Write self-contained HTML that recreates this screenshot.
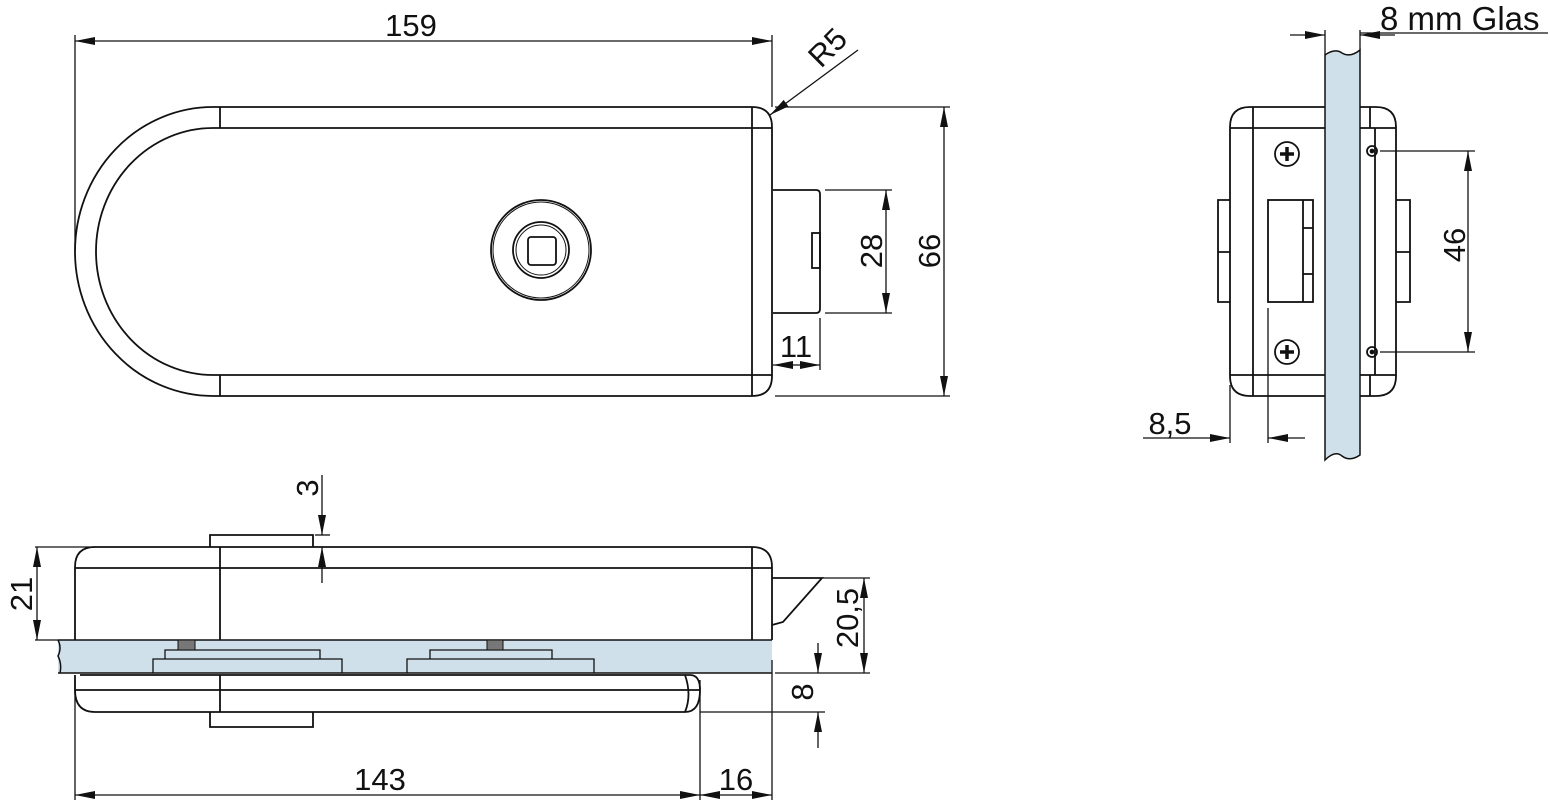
<!DOCTYPE html>
<html><head><meta charset="utf-8"><style>
html,body{margin:0;padding:0;background:#fff;}
svg{display:block;}
text{font-family:"Liberation Sans",sans-serif;font-size:31px;fill:#111;}
</style></head><body>
<svg width="1550" height="800" viewBox="0 0 1550 800" xmlns="http://www.w3.org/2000/svg">
<defs>
<marker id="a" viewBox="0 0 20 10" refX="20" refY="5" markerWidth="20" markerHeight="10" markerUnits="userSpaceOnUse" orient="auto-start-reverse"><path d="M0,1 L20,5 L0,9 z" fill="#111"/></marker>
</defs>
<g fill="none" stroke="#111" stroke-width="1.8">
<path d="M213,107 L752,107 Q772,107 772,127 L772,376 Q772,396 752,396 L213,396 A138,144.5 0 0 1 213,107 Z"/>
<path d="M213,128 L772,128 M213,375 L772,375"/>
<path d="M213,128 A117,123.5 0 0 0 213,375"/>
<path d="M220,107 V128 M220,375 V396 M752,107 V396"/>
<circle cx="541" cy="250" r="50"/><circle cx="541" cy="250" r="48" stroke-width="1"/>
<circle cx="541" cy="250" r="28"/><circle cx="541" cy="250" r="25" stroke-width="1"/>
<rect x="528" y="237" width="28" height="28" rx="3"/>
<path d="M773,190 H816 Q820,190 820,194 V309 Q820,313 816,313 H773"/>
<rect x="812" y="233" width="8" height="35"/>
<path d="M75,35 V250 M772,35 V107" stroke-width="1.3"/>
<line x1="75" y1="41" x2="772" y2="41" stroke-width="1.3" marker-start="url(#a)" marker-end="url(#a)"/>
<line x1="858" y1="50" x2="770" y2="115" stroke-width="1.3" marker-end="url(#a)"/>
<path d="M825,190 H892 M825,313 H892 M775,107 H950 M775,396 H950 M820,318 V370" stroke-width="1.3"/>
<line x1="886" y1="190" x2="886" y2="313" stroke-width="1.3" marker-start="url(#a)" marker-end="url(#a)"/>
<line x1="944" y1="107" x2="944" y2="396" stroke-width="1.3" marker-start="url(#a)" marker-end="url(#a)"/>
<line x1="773" y1="365" x2="820" y2="365" stroke-width="1.3" marker-start="url(#a)" marker-end="url(#a)"/>

<rect x="58" y="640" width="714" height="33" fill="#cfe0ea" stroke="none"/>
<path d="M58,640 H772 M58,673 H772 M58,640 q4,8 0,16 q4,8 2,17" stroke-width="1.5"/>
<path d="M95,547 H752 Q772,547 772,567 V640 M75,640 V567 Q75,547 95,547"/>
<path d="M75,568 H772 M220,547 V640 M752,547 V640"/>
<path d="M210,547 V535 H313 V547"/>
<path d="M772,578 H822 L783,622 L772,625"/>
<path d="M153,673 V659 H342 V673 M165,659 V650 H320 V659 M407,673 V659 H594 V673 M430,659 V650 H552 V659" stroke-width="1.3"/>
<rect x="178" y="640" width="17" height="10" fill="#777" stroke-width="1"/>
<rect x="487" y="640" width="16" height="10" fill="#777" stroke-width="1"/>
<path d="M80,675 H690 Q700,675 700,690 Q700,712 685,712 H95 Q75,712 75,690 V675 M75,690 H700 M220,675 V712 M685,675 Q692,695 685,712"/>
<path d="M210,712 V727 H313 V712"/>
<path d="M35,547 H95 M35,640 H58 M822,578 H870 M775,673 H870 M700,712 H825 M75,680 V800 M700,680 V800 M772,660 V800" stroke-width="1.3"/>
<line x1="37" y1="547" x2="37" y2="640" stroke-width="1.3" marker-start="url(#a)" marker-end="url(#a)"/>
<line x1="322" y1="475" x2="322" y2="535" stroke-width="1.3" marker-end="url(#a)"/>
<line x1="322" y1="583" x2="322" y2="547" stroke-width="1.3" marker-end="url(#a)"/>
<path d="M315,535 H330" stroke-width="1.3"/>
<line x1="864" y1="578" x2="864" y2="673" stroke-width="1.3" marker-start="url(#a)" marker-end="url(#a)"/>
<line x1="818" y1="643" x2="818" y2="673" stroke-width="1.3" marker-end="url(#a)"/>
<line x1="818" y1="748" x2="818" y2="712" stroke-width="1.3" marker-end="url(#a)"/>
<line x1="75" y1="795" x2="700" y2="795" stroke-width="1.3" marker-start="url(#a)" marker-end="url(#a)"/>
<line x1="700" y1="795" x2="772" y2="795" stroke-width="1.3" marker-start="url(#a)" marker-end="url(#a)"/>

<path d="M1325,55 Q1335,48 1342,53 Q1350,58 1360,50 V455 Q1350,462 1342,456 Q1335,450 1325,460 Z" fill="#cfe0ea" stroke-width="1.5"/>
<path d="M1325,107 H1250 Q1230,107 1230,127 V376 Q1230,396 1250,396 H1325"/>
<path d="M1230,128 H1325 M1230,375 H1325 M1253,107 V396"/>
<path d="M1230,200 H1218 V302 H1230 M1218,252 H1230"/>
<rect x="1268" y="200" width="45" height="102"/>
<path d="M1303,200 V302 M1303,228 H1313 M1303,274 H1313"/>
<circle cx="1287" cy="154" r="12"/><circle cx="1287" cy="352" r="12"/>
<path d="M1280,154 H1294 M1287,147 V161 M1280,352 H1294 M1287,345 V359" stroke-width="3.5"/>
<path d="M1360,107 H1376 Q1396,107 1396,127 V376 Q1396,396 1376,396 H1360 M1360,128 H1396 M1360,375 H1396 M1375,128 V375 M1370,107 V128 M1370,375 V396"/>
<path d="M1396,200 H1410 V302 H1396 M1396,252 H1410"/>
<circle cx="1372" cy="151" r="5"/><circle cx="1372" cy="352" r="5"/>
<circle cx="1372" cy="151" r="1.5" fill="#111"/><circle cx="1372" cy="352" r="1.5" fill="#111"/>
<path d="M1380,151 H1475 M1380,352 H1475 M1325,30 V55 M1360,30 V50 M1360,33 H1548 M1230,385 V443 M1268,308 V443" stroke-width="1.3"/>
<line x1="1468" y1="151" x2="1468" y2="352" stroke-width="1.3" marker-start="url(#a)" marker-end="url(#a)"/>
<line x1="1290" y1="35" x2="1325" y2="35" stroke-width="1.3" marker-end="url(#a)"/>
<line x1="1395" y1="35" x2="1360" y2="35" stroke-width="1.3" marker-end="url(#a)"/>
<line x1="1143" y1="438" x2="1230" y2="438" stroke-width="1.3" marker-end="url(#a)"/>
<line x1="1305" y1="438" x2="1268" y2="438" stroke-width="1.3" marker-end="url(#a)"/>
</g>
<text x="411" y="36" text-anchor="middle">159</text>
<text transform="translate(835,55) rotate(-45)" text-anchor="middle">R5</text>
<text transform="translate(882,251) rotate(-90)" text-anchor="middle">28</text>
<text transform="translate(940,251) rotate(-90)" text-anchor="middle">66</text>
<text x="796" y="357" text-anchor="middle">11</text>
<text transform="translate(32,594) rotate(-90)" text-anchor="middle">21</text>
<text transform="translate(318,488) rotate(-90)" text-anchor="middle">3</text>
<text transform="translate(858,618) rotate(-90)" text-anchor="middle">20,5</text>
<text transform="translate(813,692) rotate(-90)" text-anchor="middle">8</text>
<text x="380" y="790" text-anchor="middle">143</text>
<text x="736" y="790" text-anchor="middle">16</text>
<text transform="translate(1465,245) rotate(-90)" text-anchor="middle">46</text>
<text x="1170" y="434" text-anchor="middle">8,5</text>
<text x="1380" y="30" style="font-size:33px">8 mm Glas</text>
</svg>
</body></html>
